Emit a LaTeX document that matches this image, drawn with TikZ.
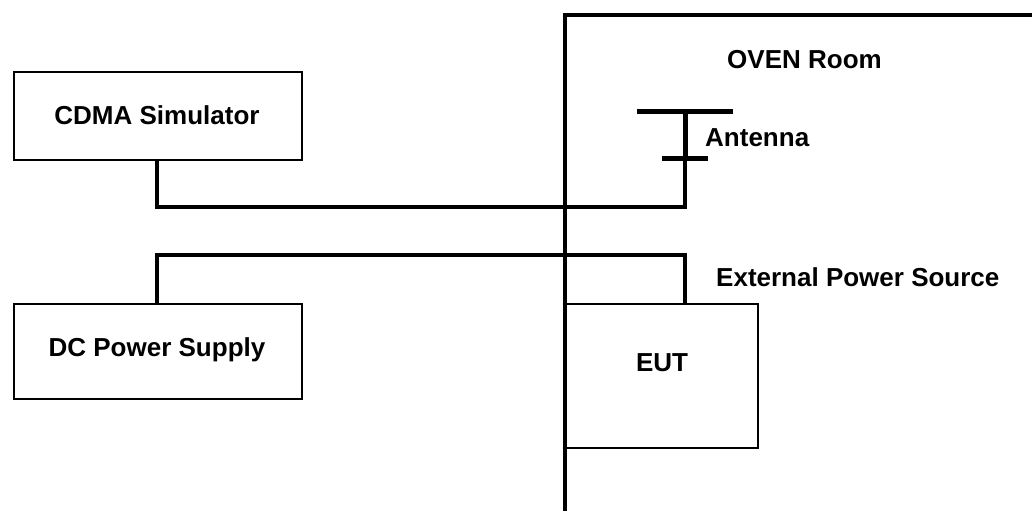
\documentclass[tikz,border=0pt]{standalone}
\usepackage{fontspec}
\setmainfont{Liberation Sans}
\begin{document}
\begin{tikzpicture}[x=1pt,y=-1pt,
  txt/.style={font=\fontsize{26}{30}\selectfont\bfseries, inner sep=0pt},
  box/.style={draw, line width=1.5pt, rectangle, inner sep=0pt},
  cable/.style={line width=3.2pt, line join=miter},
  wall/.style={line width=4pt},
  bar/.style={line width=5pt}]
\useasboundingbox (0,0) rectangle (1032,511);
% boxes
\node[box, minimum width=288pt, minimum height=88pt, anchor=north west] (cdma) at (13,71) {};
\node[txt] (cdmat) at (157,115) {CDMA Simulator};
\node[box, minimum width=288pt, minimum height=95pt, anchor=north west] (dc) at (13,303) {};
\node[txt] (dct) at (157,350) {DC Power Supply};
\node[box, minimum width=192pt, minimum height=144pt, anchor=north west] (eut) at (565,303) {};
\node[txt] (eutt) at (662,363) {EUT};
% antenna
\coordinate (anttop) at (685,111);
\coordinate (antbot) at (685,158);
\draw[bar] (637,111) -- (733,111);
\draw[bar] (662,158) -- (708,158);
\draw[bar] (anttop) -- (antbot);
% wall
\coordinate (walltop) at (565,15);
\coordinate (wallbot) at (565,511);
\coordinate (wallright) at (1032,15);
\draw[wall] (wallbot) -- (walltop) -- (wallright);
% cables
\draw[cable] (cdma.south -| 157,0) -- (157,207) -- (685,207) -- (antbot);
\draw[cable] (dc.north -| 157,0) -- (157,255) -- (685,255) -- (eut.north -| 685,0);
% labels
\node[txt, anchor=west] (oven) at (727,60) {OVEN Room};
\node[txt, anchor=west] (ant) at (705,138) {Antenna};
\node[txt, anchor=west] (ext) at (716,277) {External Power Source};
\end{tikzpicture}
\end{document}
